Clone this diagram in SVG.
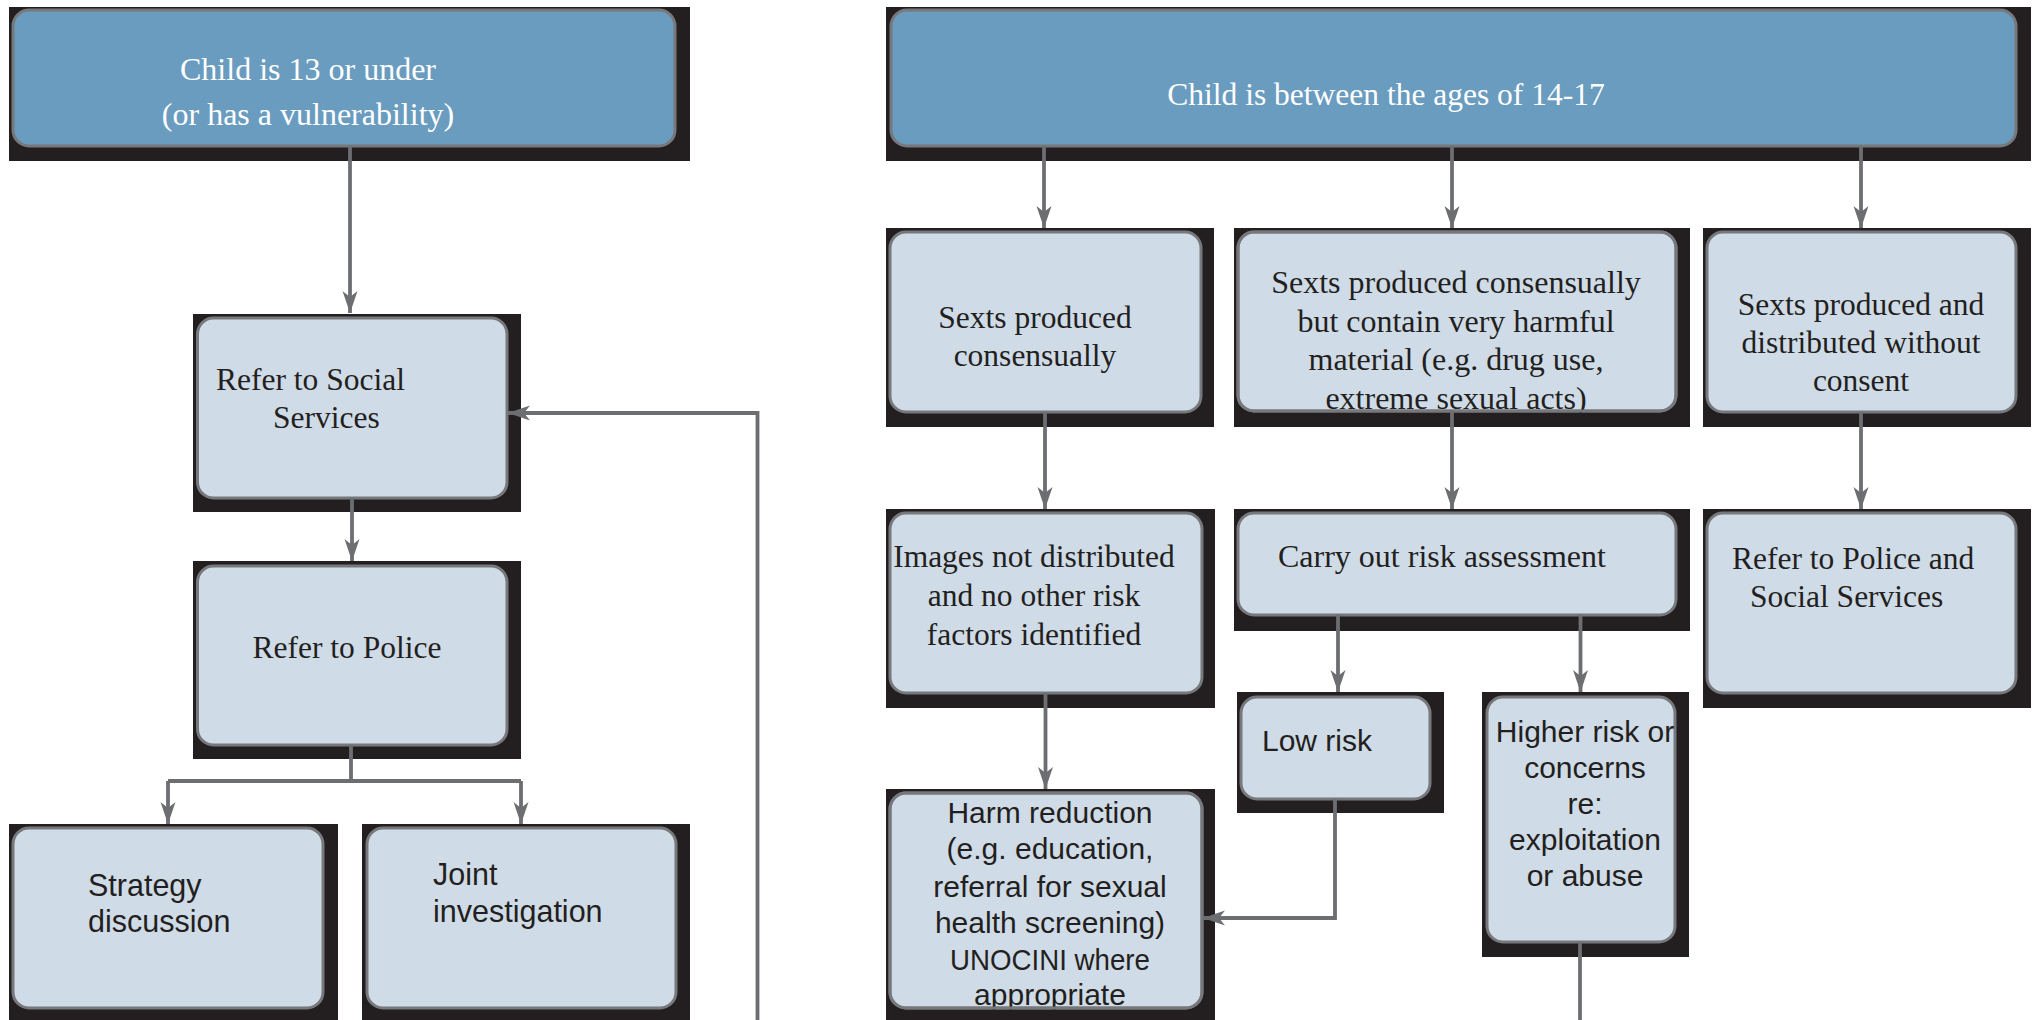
<svg xmlns="http://www.w3.org/2000/svg" width="2037" height="1020" viewBox="0 0 2037 1020">
<style>
.bg{fill:#231f20}
.in{fill:#cfdbe6;stroke:#77787b;stroke-width:3}
.ov{fill:none;stroke:#77787b;stroke-width:3}
.top{fill:#6a9cbf;stroke:#77787b;stroke-width:3}
.s{font-family:"Liberation Serif","Times New Roman",serif;font-size:31.5px;fill:#231f20}
.w{fill:#ffffff}
.a{font-family:"Liberation Sans",Arial,sans-serif;font-size:30px;fill:#231f20}
.m{text-anchor:middle}
.c{fill:none;stroke:#6d6e71;stroke-width:3.8}
</style>
<defs>
<marker id="ah" viewBox="-22 -8 24 16" refX="0" refY="0" markerWidth="24" markerHeight="16" markerUnits="userSpaceOnUse" orient="auto">
<path d="M0,0 L-22,-7.5 L-16,0 L-22,7.5 Z" fill="#6d6e71"/>
</marker>
</defs>
<rect width="2037" height="1020" fill="#ffffff"/>

<g id="n-under13">
<rect class="bg" x="9" y="7" width="681" height="154"/>
<rect class="top" x="13" y="10" width="662" height="136" rx="16"/>
<text class="s w m" x="308" y="80" style="font-size:32px">Child is 13 or under</text>
<text class="s w m" x="308" y="125" style="font-size:32px">(or has a vulnerability)</text>
</g>

<g id="n-social">
<rect class="bg" x="193" y="314" width="328" height="198"/>
<rect class="in" x="197.5" y="318" width="309.5" height="180" rx="16"/>
<text class="s" x="216" y="390">Refer to Social</text>
<text class="s" x="273" y="428">Services</text>
</g>

<g id="n-police">
<rect class="bg" x="193" y="561" width="328" height="198"/>
<rect class="in" x="197.5" y="566" width="309.5" height="179" rx="16"/>
<text class="s m" x="347" y="658">Refer to Police</text>
</g>

<g id="n-strategy">
<rect class="bg" x="9" y="824" width="329" height="196"/>
<rect class="in" x="13" y="828" width="310" height="180" rx="16"/>
<text class="a" x="88" y="896" style="font-size:30.5px">Strategy</text>
<text class="a" x="88" y="932" style="font-size:30.5px">discussion</text>
</g>

<g id="n-joint">
<rect class="bg" x="362" y="824" width="328" height="196"/>
<rect class="in" x="367" y="828" width="309" height="180" rx="16"/>
<text class="a" x="433" y="885" style="font-size:30.5px">Joint</text>
<text class="a" x="433" y="922" style="font-size:30.5px">investigation</text>
</g>

<g id="n-14to17">
<rect class="bg" x="886" y="7" width="1145" height="154"/>
<rect class="top" x="891" y="10" width="1125" height="136" rx="16"/>
<text class="s w m" x="1386" y="105">Child is between the ages of 14-17</text>
</g>

<g id="n-consensual">
<rect class="bg" x="886" y="228" width="328" height="199"/>
<rect class="in" x="890" y="232" width="311" height="180" rx="16"/>
<text class="s m" x="1035" y="328">Sexts produced</text>
<text class="s m" x="1035" y="366">consensually</text>
</g>

<g id="n-harmful">
<rect class="bg" x="1234" y="228" width="456" height="199"/>
<rect class="in" x="1238" y="232" width="438" height="179" rx="16"/>
<text class="s m" x="1456" y="293" style="font-size:32px">Sexts produced consensually</text>
<text class="s m" x="1456" y="332" style="font-size:32px">but contain very harmful</text>
<text class="s m" x="1456" y="370" style="font-size:32px">material (e.g. drug use,</text>
<text class="s m" x="1456" y="409" style="font-size:32px">extreme sexual acts)</text>
<rect class="ov" x="1238" y="232" width="438" height="179" rx="16"/>
</g>

<g id="n-noconsent">
<rect class="bg" x="1703" y="228" width="328" height="199"/>
<rect class="in" x="1707" y="232" width="309" height="180" rx="16"/>
<text class="s m" x="1861" y="315">Sexts produced and</text>
<text class="s m" x="1861" y="353">distributed without</text>
<text class="s m" x="1861" y="391">consent</text>
</g>

<g id="n-notdistributed">
<rect class="bg" x="886" y="509" width="329" height="199"/>
<rect class="in" x="890" y="513" width="312" height="180" rx="16"/>
<text class="s m" x="1034" y="567">Images not distributed</text>
<text class="s m" x="1034" y="606">and no other risk</text>
<text class="s m" x="1034" y="645">factors identified</text>
</g>

<g id="n-assessment">
<rect class="bg" x="1234" y="509" width="456" height="122"/>
<rect class="in" x="1238" y="513" width="438" height="102" rx="16"/>
<text class="s" x="1278" y="567" style="font-size:32px">Carry out risk assessment</text>
</g>

<g id="n-policesocial">
<rect class="bg" x="1703" y="509" width="328" height="199"/>
<rect class="in" x="1707" y="513" width="309" height="180" rx="16"/>
<text class="s" x="1732" y="569">Refer to Police and</text>
<text class="s" x="1750" y="607">Social Services</text>
</g>

<g id="n-lowrisk">
<rect class="bg" x="1237" y="692" width="207" height="121"/>
<rect class="in" x="1241" y="697" width="189" height="102" rx="16"/>
<text class="a" x="1262" y="751">Low risk</text>
</g>

<g id="n-higherrisk">
<rect class="bg" x="1482" y="692" width="207" height="265"/>
<rect class="in" x="1487" y="697" width="188" height="245" rx="16"/>
<text class="a m" x="1585" y="742">Higher risk or</text>
<text class="a m" x="1585" y="778">concerns</text>
<text class="a m" x="1585" y="814">re:</text>
<text class="a m" x="1585" y="850">exploitation</text>
<text class="a m" x="1585" y="886">or abuse</text>
</g>

<g id="n-harmreduction">
<rect class="bg" x="886" y="789" width="329" height="231"/>
<rect class="in" x="890" y="793" width="312" height="215" rx="16"/>
<text class="a m" x="1050" y="823">Harm reduction</text>
<text class="a m" x="1050" y="859">(e.g. education,</text>
<text class="a m" x="1050" y="897">referral for sexual</text>
<text class="a m" x="1050" y="933">health screening)</text>
<text class="a m" x="1050" y="970" textLength="200" lengthAdjust="spacingAndGlyphs">UNOCINI where</text>
<text class="a m" x="1050" y="1005">appropriate</text>
<rect class="ov" x="890" y="793" width="312" height="215" rx="16"/>
</g>

<g id="connectors">
<path class="c" d="M350,146 V313" marker-end="url(#ah)"/>
<path class="c" d="M352,498 V561" marker-end="url(#ah)"/>
<path class="c" d="M351,745 V781 M168,781 H521"/>
<path class="c" d="M168,781 V824" marker-end="url(#ah)"/>
<path class="c" d="M521,781 V824" marker-end="url(#ah)"/>
<path class="c" d="M757.5,1020 V413 H508" marker-end="url(#ah)"/>
<path class="c" d="M1044,146 V228" marker-end="url(#ah)"/>
<path class="c" d="M1452,146 V228" marker-end="url(#ah)"/>
<path class="c" d="M1861,146 V228" marker-end="url(#ah)"/>
<path class="c" d="M1045,412 V509" marker-end="url(#ah)"/>
<path class="c" d="M1452,411 V509" marker-end="url(#ah)"/>
<path class="c" d="M1861,412 V509" marker-end="url(#ah)"/>
<path class="c" d="M1338,615 V692" marker-end="url(#ah)"/>
<path class="c" d="M1580.5,615 V692" marker-end="url(#ah)"/>
<path class="c" d="M1045.5,693 V789" marker-end="url(#ah)"/>
<path class="c" d="M1335,799 V918 H1203" marker-end="url(#ah)"/>
<path class="c" d="M1580,942 V1020"/>
</g>
</svg>
